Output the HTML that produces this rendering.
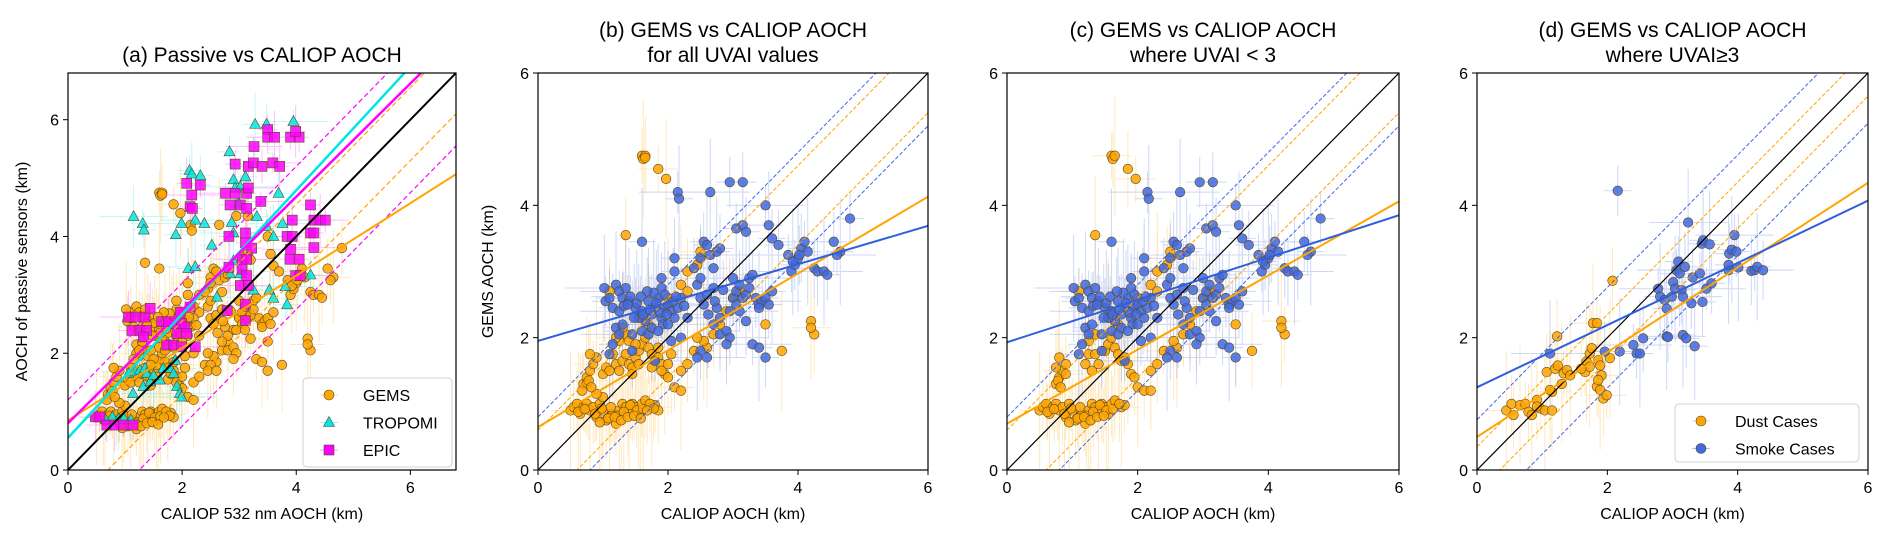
<!DOCTYPE html>
<html><head><meta charset="utf-8">
<style>
html,body{margin:0;padding:0;background:#fff;}
svg{display:block;font-family:"Liberation Sans",sans-serif;}
</style></head>
<body>
<svg id="fig" width="1892" height="543" viewBox="0 0 1892 543" xmlns="http://www.w3.org/2000/svg"></svg>
<script>
// ---------- DATA ----------
const dustB_x=[0.5,0.55,0.6,0.65,0.7,0.75,0.8,0.85,0.9,0.95,1.0,1.05,1.1,1.15,1.2,1.25,1.3,1.35,1.4,1.45,1.5,1.55,1.6,1.65,1.75,1.8,1.85,1.0,0.9,0.7,0.75,0.8,0.85,0.9,0.8,0.75,1.0,1.05,1.1,1.2,1.25,1.3,1.35,1.4,1.45,1.5,1.55,1.6,1.65,1.7,1.75,1.8,1.85,1.9,1.95,2.0,2.1,2.2,1.15,1.25,1.35,1.4,1.5,1.3,1.2,1.6,2.2,2.3,2.4,2.6,2.7,2.8,2.9,3.0,3.1,2.55,2.45,1.6,1.62,1.65,1.85,1.97,1.65,1.35,2.0,2.5,2.3,2.2,2.5,3.5,4.2,4.25,4.2,3.75,1.1,1.55,1.7,2.45,2.3,0.62,0.72,0.88,0.98,1.12,1.22,1.32,1.42,1.52,1.62,1.72,1.78,0.95,1.08,1.18,1.28,1.38,1.48,1.58,1.68,0.68,0.78,0.82,1.45,1.55,1.75,1.85,2.05,1.9,2.0];
const dustB_y=[0.9,0.95,1.0,0.85,0.95,1.0,0.9,0.95,0.8,1.0,0.9,0.75,0.8,0.85,0.7,0.9,1.0,0.95,0.9,1.0,0.95,0.85,1.0,1.05,0.95,0.98,0.9,1.1,1.15,1.3,1.4,1.5,1.6,1.7,1.75,1.3,1.45,1.55,1.5,1.6,1.5,1.65,1.75,1.6,1.55,1.7,1.8,1.9,2.0,1.85,1.75,1.65,1.7,1.6,1.45,1.4,1.25,1.2,1.75,1.95,2.05,1.95,1.9,2.15,2.0,2.3,1.5,1.6,1.8,1.85,2.05,2.2,2.4,2.6,2.7,1.95,2.0,4.75,4.7,4.75,4.55,4.4,4.72,3.55,2.6,3.2,3.0,2.8,3.3,2.2,2.25,2.05,2.15,1.8,2.7,2.3,2.2,3.1,2.7,0.88,0.92,0.85,0.93,0.95,0.82,0.88,0.98,0.9,0.92,1.0,0.93,0.72,0.78,0.8,0.75,0.8,0.82,0.78,0.9,1.2,1.35,1.25,1.45,1.6,1.55,1.85,1.75,1.5,1.6];
const smokeB_x=[1.02,1.04,1.1,1.2,1.25,1.3,1.35,1.15,1.25,1.4,1.5,1.6,1.7,1.75,1.8,1.85,1.9,1.95,2.0,2.05,2.1,2.15,2.2,1.9,1.95,1.92,1.65,1.55,1.6,1.7,1.75,1.2,1.25,1.45,1.3,1.85,2.0,2.05,1.45,1.1,1.8,1.9,2.1,2.1,2.15,1.6,2.4,2.45,2.5,2.5,2.55,2.6,2.65,2.7,2.75,2.8,2.5,2.6,2.7,2.75,2.8,2.7,2.8,2.9,2.95,3.0,3.05,3.1,3.0,3.05,3.15,3.2,3.25,3.3,3.35,3.4,3.45,3.5,3.6,3.2,3.3,3.4,3.5,2.9,2.3,2.2,2.5,2.45,2.6,3.05,3.15,3.2,3.5,3.55,3.6,3.7,2.65,2.95,3.15,2.17,3.9,3.95,4.0,4.05,4.1,4.15,4.25,4.3,4.4,4.45,4.55,4.65,4.6,4.8,1.15,1.32,1.42,1.52,1.62,1.72,1.82,1.88,1.98,2.08,2.12,2.25,1.78,1.68,1.58,1.48,1.38,2.55,2.62,2.72,2.85,2.95,3.1,3.25,3.4,3.55,3.85,3.92,4.02];
const smokeB_y=[2.75,2.55,2.6,2.8,2.7,2.6,2.75,2.45,2.4,2.55,2.45,2.4,2.55,2.35,2.45,2.6,2.3,2.45,2.5,2.4,2.3,2.45,2.6,2.75,2.65,2.2,2.25,2.3,2.1,2.05,2.15,2.15,2.05,2.05,2.2,2.1,2.2,1.95,1.8,1.75,1.65,2.9,3.0,3.2,4.2,3.45,3.05,2.8,2.9,3.2,3.45,3.4,3.25,3.05,3.3,3.35,2.6,2.65,2.75,2.45,2.3,2.2,2.05,2.1,2.0,2.6,2.7,2.8,2.9,2.5,2.6,2.65,2.9,2.95,2.6,2.5,2.55,2.6,2.7,2.25,1.9,1.85,1.7,1.9,2.3,2.0,1.8,1.7,1.7,3.65,3.7,3.6,4.0,3.7,3.5,3.4,4.2,4.35,4.35,4.1,3.0,3.1,3.2,3.35,3.45,3.3,3.05,3.0,3.0,2.95,3.45,3.3,3.25,3.8,1.9,2.48,2.62,2.52,2.35,2.42,2.52,2.38,2.35,2.55,2.62,2.48,2.68,2.7,2.62,2.3,2.5,2.5,2.35,2.55,2.72,2.4,2.4,2.75,2.45,2.5,3.25,3.15,3.25];
const dustC_x=[0.5,0.55,0.6,0.65,0.7,0.75,0.8,0.85,0.9,0.95,1.0,1.05,1.1,1.15,1.2,1.25,1.3,1.35,1.4,1.45,1.5,1.55,1.6,1.65,1.75,1.8,0.75,0.8,0.85,0.9,0.8,0.75,0.9,1.2,1.25,1.3,1.35,1.4,1.5,1.55,1.6,1.65,1.7,1.75,1.8,1.85,1.9,1.95,2.0,2.1,2.2,1.25,1.35,1.6,2.2,2.3,2.4,2.6,2.7,2.8,2.9,3.0,3.1,2.55,1.6,1.62,1.65,1.85,1.97,1.35,2.0,2.5,2.3,2.2,2.5,3.5,4.2,4.25,4.2,3.75,1.1,1.55,1.7,2.45,2.3,0.62,0.72,0.88,0.98,1.12,1.22,1.32,1.42,1.52,1.62,1.72,0.95,1.08,1.18,1.28,1.38,1.48,0.78,0.82];
const dustC_y=[0.9,0.95,1.0,0.85,0.95,1.0,0.9,0.95,0.8,1.0,0.9,0.75,0.8,0.85,0.7,0.9,1.0,0.95,0.9,1.0,0.95,0.85,1.0,1.05,0.95,0.98,1.3,1.4,1.5,1.6,1.7,1.55,1.45,1.6,1.75,1.5,1.75,1.6,1.8,1.9,2.0,1.85,1.75,1.65,1.7,1.6,1.45,1.4,1.25,1.2,1.2,1.95,2.05,2.3,1.5,1.6,1.8,1.85,2.05,2.2,2.4,2.6,2.7,1.95,4.75,4.7,4.75,4.55,4.4,3.55,2.6,3.2,3.0,2.8,3.3,2.2,2.25,2.05,2.15,1.8,2.7,2.3,2.2,3.1,2.7,0.88,0.92,0.85,0.93,0.95,0.82,0.88,0.98,0.9,0.92,1.0,0.72,0.78,0.8,0.75,0.8,0.82,1.35,1.25];
const smokeC_x=smokeB_x.slice();
const smokeC_y=smokeB_y.slice();
const dustD_x=[0.45,0.53,0.56,0.66,0.74,0.79,0.84,0.92,0.97,1.04,1.15,1.07,1.15,1.2,1.24,1.3,1.33,1.38,1.43,1.23,1.66,1.68,1.73,1.76,1.78,1.84,1.86,1.89,1.91,1.84,1.89,1.94,1.99,2.04,2.08,1.86,1.73,1.6,0.92,1.12];
const dustD_y=[0.9,1.0,0.83,0.98,1.0,0.88,0.83,1.06,0.93,0.9,0.9,1.48,1.18,1.53,1.58,1.3,1.46,1.51,1.43,2.02,1.48,1.64,1.76,1.84,2.22,2.22,1.66,1.58,1.43,1.26,1.21,1.08,1.13,1.69,2.86,1.36,1.56,1.53,0.96,1.21];
const smokeD_x=[1.12,2.16,1.96,2.19,2.4,2.45,2.5,2.55,2.78,2.81,2.88,2.91,2.91,2.93,3.01,3.04,3.06,3.09,3.11,3.14,3.16,3.16,3.21,3.19,3.24,3.29,3.31,3.34,3.42,3.45,3.47,3.46,3.52,3.57,3.6,2.99,3.86,3.86,3.87,3.91,3.95,3.98,4.01,4.21,4.26,4.3,4.39];
const smokeD_y=[1.76,4.22,1.79,1.79,1.89,1.76,1.76,1.99,2.74,2.62,2.57,2.44,2.02,2.01,2.84,2.74,3.02,3.15,2.97,2.72,2.62,2.04,1.99,3.07,3.74,2.52,2.91,1.87,2.97,3.42,3.47,2.54,2.74,3.41,2.82,2.62,3.02,3.1,3.27,3.33,3.55,3.3,3.06,3.01,3.02,3.07,3.02];
const tropomi_x=[1.15,1.31,1.33,1.89,1.99,2.13,2.17,2.32,2.23,2.39,2.52,2.11,2.23,2.83,2.9,2.93,3.02,3.11,3.28,3.48,3.95,3.69,2.99,2.87,2.9,3.31,3.48,3.6,3.76,2.9,2.84,3.02,2.61,3.25,3.53,3.6,3.81,3.84,4.25,1.06,1.18,1.26,1.35,1.38,1.67,1.79,1.88,1.32,1.44,1.61,1.85,1.91,1.96,1.14,1.5,0.66,0.78,0.89,0.98,1.1,1.99];
const tropomi_y=[4.34,4.22,4.11,4.03,4.22,5.13,5.07,5.04,4.28,4.22,3.85,3.45,3.48,5.45,4.97,4.83,4.85,5.02,5.92,5.92,5.97,4.74,4.57,4.24,4.06,4.34,4.17,4.0,4.22,3.58,3.36,3.36,2.96,3.08,3.08,2.94,3.14,2.83,3.34,1.65,1.68,1.71,1.74,1.65,1.74,1.74,1.88,1.43,1.51,1.54,1.65,1.43,1.31,1.31,1.62,0.86,0.91,0.88,0.88,0.86,1.25];
const epic_x=[1.06,1.18,1.12,1.26,1.38,1.35,1.44,1.32,1.64,1.76,1.88,1.99,2.05,1.91,2.08,2.14,1.97,1.73,1.85,1.99,2.23,0.48,0.56,0.68,0.82,0.97,1.14,2.08,2.17,2.32,2.14,2.18,2.76,2.93,2.93,3.13,3.16,2.84,3.02,3.13,3.26,3.16,3.25,3.4,3.59,3.71,3.5,3.5,3.62,3.9,4.05,3.99,3.38,2.82,3.11,3.11,3.05,3.13,3.05,3.13,3.02,3.16,3.22,2.82,2.79,3.11,3.11,3.84,3.9,3.93,4.25,4.31,4.42,4.51,4.25,4.31,4.31,3.89,4.05,3.99,4.07,3.93];
const epic_y=[2.62,2.62,2.39,2.39,2.39,2.62,2.77,2.28,2.54,2.54,2.51,2.51,2.45,2.34,2.34,2.79,2.7,2.14,2.14,2.11,2.11,0.91,0.91,0.77,0.77,0.77,0.77,4.91,4.71,4.88,4.51,4.48,4.74,4.74,5.24,4.74,4.83,4.54,4.54,4.48,5.54,5.2,5.26,5.2,5.26,5.2,5.83,5.7,5.7,5.7,5.7,5.8,4.6,4.0,4.06,3.89,3.61,3.61,3.44,3.33,3.16,3.16,3.8,3.47,2.73,2.84,2.56,4.0,3.78,4.0,4.54,4.28,4.28,4.28,4.06,4.06,3.81,3.61,3.61,3.33,3.33,4.28];
const gemsA_x=dustB_x.concat(smokeB_x);
const gemsA_y=dustB_y.concat(smokeB_y);
// fits: [intercept, slope]
const fitA_gems=[0.85,0.62], fitA_trop=[0.55,1.06], fitA_epic=[0.8,0.97];
const fitB_dust=[0.65,0.58], fitB_smoke=[1.95,0.29];
const fitC_dust=[0.7,0.56], fitC_smoke=[1.93,0.32];
const fitD_dust=[0.5,0.64], fitD_smoke=[1.25,0.47];
const ticksA=[0,2,4,6], ticks=[0,2,4,6];

const NS="http://www.w3.org/2000/svg";
const fig=document.getElementById('fig');
function mk(tag,attrs,parent){const e=document.createElementNS(NS,tag);for(const k in attrs)e.setAttribute(k,attrs[k]);(parent||fig).appendChild(e);return e;}
const ORANGE="#ffa500", BLUE="#2f5fdc", CYAN="#00e5e5", MAG="#ff00ff";

function panel(name,L,R,T,B,max){
  const g=mk('g',{});
  
  
  const sx=v=>L+(v/max)*(R-L), sy=v=>B-(v/max)*(B-T);
  const cid='clip-'+name;
  const cp=mk('clipPath',{id:cid},g); mk('rect',{x:L,y:T,width:R-L,height:B-T},cp);
  const inner=mk('g',{'clip-path':'url(#'+cid+')'},g);
  return {g,inner,sx,sy,L,R,T,B,max};
}
function line(P,a,b,color,w,dash,nm){
  const l=mk('line',{x1:P.sx(0),y1:P.sy(a),x2:P.sx(P.max),y2:P.sy(a+b*P.max),stroke:color,'stroke-width':w},P.inner);
  if(dash)l.setAttribute('stroke-dasharray',dash);
  
  
}
function errbars(P,xs,ys,color,ex,ey){
  const g=mk('g',{stroke:color,'stroke-width':1,opacity:0.25},P.inner);
  
  
  for(let i=0;i<xs.length;i++){
    const e=(i%3===0)?ey*1.8:ey*(0.7+0.15*(i%4));
    mk('line',{x1:P.sx(xs[i]),x2:P.sx(xs[i]),y1:P.sy(ys[i]-e),y2:P.sy(ys[i]+e)},g);
    const h=(i%4===0)?ex*2:ex*0.7;
    mk('line',{x1:P.sx(xs[i]-h),x2:P.sx(xs[i]+h),y1:P.sy(ys[i]),y2:P.sy(ys[i])},g);
  }
}
function points(P,xs,ys,color,shape,nm){
  const g=mk('g',{fill:color,stroke:'#5a4a20','stroke-width':0.6,'fill-opacity':0.85},P.inner);
  
  
  for(let i=0;i<xs.length;i++){
    const x=P.sx(xs[i]),y=P.sy(ys[i]);let e;
    if(shape==='c')e=mk('circle',{cx:x,cy:y,r:4.8},g);
    else if(shape==='s')e=mk('rect',{x:x-5,y:y-5,width:10,height:10},g);
    else e=mk('polygon',{points:`${x},${y-6} ${x+5.5},${y+4} ${x-5.5},${y+4}`},g);
    
    
  }
}
function axes(P,tk,xlabel,ylabel,title,ylabx){
  const g=P.g;
  mk('rect',{x:P.L,y:P.T,width:P.R-P.L,height:P.B-P.T,fill:'none',stroke:'#000','stroke-width':1.2},g);
  tk.forEach(t=>{
    const x=P.sx(t),y=P.sy(t);
    mk('line',{x1:x,x2:x,y1:P.B,y2:P.B+5,stroke:'#000'},g);
    const tx=mk('text',{x:x,y:P.B+23,'text-anchor':'middle','font-size':16},g);tx.textContent=t;
    
    mk('line',{x1:P.L-5,x2:P.L,y1:y,y2:y,stroke:'#000'},g);
    const ty=mk('text',{x:P.L-9,y:y+6,'text-anchor':'end','font-size':16},g);ty.textContent=t;
    
  });
  const xl=mk('text',{x:(P.L+P.R)/2,y:519,'text-anchor':'middle','font-size':16},g);xl.textContent=xlabel;
  
  if(ylabel){const cy=(P.T+P.B)/2;const yl=mk('text',{x:ylabx,y:cy,'text-anchor':'middle','font-size':16,transform:`rotate(-90 ${ylabx} ${cy})`},g);yl.textContent=ylabel;
    }
  title.forEach((s,i)=>{const t=mk('text',{x:(P.L+P.R)/2,y:(title.length===1?62:37)+i*25,'text-anchor':'middle','font-size':21},g);t.textContent=s;
    });
}
function legend(P,x,y,w,h,items){
  const g=mk('g',{},P.g);
  
  
  mk('rect',{x:x,y:y,width:w,height:h,rx:4,fill:'#fff','fill-opacity':0.85,stroke:'#d0d0d0'},g);
  items.forEach((it,i)=>{
    const cy=y+17+i*27.5, cx=x+26;
    const e=mk('g',{},g);
    
    
    mk('line',{x1:cx-9,x2:cx+9,y1:cy,y2:cy,stroke:it.c,'stroke-opacity':0.4},e);
    if(it.s==='c')mk('circle',{cx:cx,cy:cy,r:5,fill:it.c,stroke:'#5a4a20','stroke-width':0.6},e);
    else if(it.s==='s')mk('rect',{x:cx-5,y:cy-5,width:10,height:10,fill:it.c,stroke:'#5a4a20','stroke-width':0.6},e);
    else mk('polygon',{points:`${cx},${cy-6} ${cx+5.5},${cy+4} ${cx-5.5},${cy+4}`,fill:it.c,stroke:'#5a4a20','stroke-width':0.6},e);
    const t=mk('text',{x:cx+34,y:cy+6,'font-size':16},e);t.textContent=it.t;
  });
}

// Panel A
const A=panel('panel-a',68,456,73,470,6.8);
errbars(A,gemsA_x,gemsA_y,ORANGE,0.15,0.45);
errbars(A,tropomi_x,tropomi_y,CYAN,0.3,0.3);
errbars(A,epic_x,epic_y,MAG,0.25,0.25);
points(A,gemsA_x,gemsA_y,ORANGE,'c','gems-points');
points(A,tropomi_x,tropomi_y,CYAN,'t','tropomi-points');
points(A,epic_x,epic_y,MAG,'s','epic-points');
line(A,0,1,'#000',2,null,'one-to-one-line');
line(A,0.55,1,ORANGE,1.2,'5,3','gems-upper-envelope');
line(A,-0.7,1,ORANGE,1.2,'5,3','gems-lower-envelope');
line(A,1.2,1,MAG,1.2,'5,3','epic-upper-envelope');
line(A,-1.25,1,MAG,1.2,'5,3','epic-lower-envelope');
line(A,fitA_gems[0],fitA_gems[1],ORANGE,2,null,'gems-fit-line');
line(A,fitA_trop[0],fitA_trop[1],CYAN,2.5,null,'tropomi-fit-line');
line(A,fitA_epic[0],fitA_epic[1],MAG,2.5,null,'epic-fit-line');
axes(A,ticksA,'CALIOP 532 nm AOCH (km)','AOCH of passive sensors (km)',['(a) Passive vs CALIOP AOCH'],27);
legend(A,303,378,149,89,[{c:ORANGE,s:'c',t:'GEMS'},{c:CYAN,s:'t',t:'TROPOMI'},{c:MAG,s:'s',t:'EPIC'}]);

function gemsPanel(name,L,R,dx,dy,sxs,sys,fd,fs,title,ylab,dOff,sOff){
  const P=panel(name,L,R,73,470,6);
  errbars(P,dx,dy,ORANGE,0.15,0.5);
  errbars(P,sxs,sys,'#4169e1',0.3,0.45);
  points(P,dx,dy,ORANGE,'c','dust-points');
  points(P,sxs,sys,'#4169e1','c','smoke-points');
  line(P,0,1,'#000',1.2,null,'one-to-one-line');
  line(P,dOff,1,ORANGE,1,'4,2','dust-upper-envelope');
  line(P,-dOff,1,ORANGE,1,'4,2','dust-lower-envelope');
  line(P,sOff,1,'#4169e1',1,'4,2','smoke-upper-envelope');
  line(P,-sOff,1,'#4169e1',1,'4,2','smoke-lower-envelope');
  line(P,fd[0],fd[1],ORANGE,2,null,'dust-fit-line');
  line(P,fs[0],fs[1],BLUE,2,null,'smoke-fit-line');
  axes(P,ticks,'CALIOP AOCH (km)',ylab,title,L-45);
  return P;
}
gemsPanel('panel-b',538,928,dustB_x,dustB_y,smokeB_x,smokeB_y,fitB_dust,fitB_smoke,['(b) GEMS vs CALIOP AOCH','for all UVAI values'],'GEMS AOCH (km)',0.6,0.8);
gemsPanel('panel-c',1007,1399,dustC_x,dustC_y,smokeC_x,smokeC_y,fitC_dust,fitC_smoke,['(c) GEMS vs CALIOP AOCH','where UVAI < 3'],null,0.6,0.8);
const D=gemsPanel('panel-d',1477,1868,dustD_x,dustD_y,smokeD_x,smokeD_y,fitD_dust,fitD_smoke,['(d) GEMS vs CALIOP AOCH','where UVAI\u22653'],null,0.35,0.76);
legend(D,1675,404,184,58,[{c:ORANGE,s:'c',t:'Dust Cases'},{c:'#4169e1',s:'c',t:'Smoke Cases'}]);
</script>
</body></html>
